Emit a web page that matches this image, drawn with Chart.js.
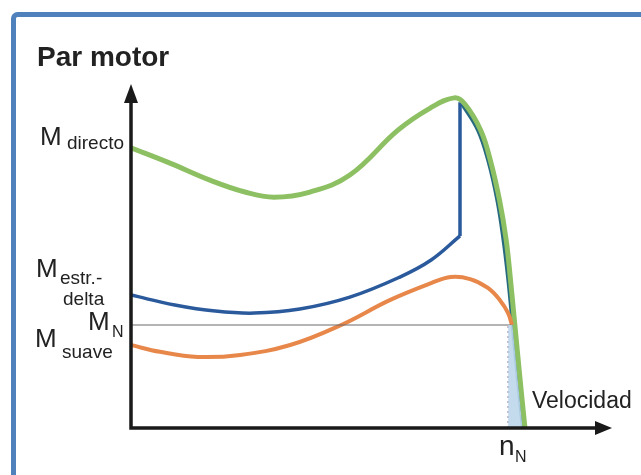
<!DOCTYPE html>
<html>
<head>
<meta charset="utf-8">
<script src="https://cdn.jsdelivr.net/npm/chart.js@4.4.1/dist/chart.umd.min.js"></script>
<style>
  html, body { margin: 0; padding: 0; background: #fff; }
</style>
</head>
<body>
<canvas id="torqueChart" width="641" height="475"></canvas>
<script>
// speed (0-100) and torque (0-100)
const directoSpeed = [0, 8.1, 16.4, 23.7, 29.7, 37.2, 45.5, 55.5, 62.2, 67.2, 69.4, 72.7, 74.7, 76.6, 78.0, 78.9, 79.8, 80.9, 81.9];
const directoTorque = [82.4, 77.9, 72.9, 69.4, 67.9, 69.4, 74.4, 87.6, 94.1, 97.1, 95.3, 87.6, 78.8, 67.1, 55.3, 43.5, 30.3, 14.1, 0];

const estrellaSpeed = [0, 9.1, 17.5, 25.6, 35.1, 45.5, 55.9, 62.4, 68.4];
const estrellaTorque = [39.1, 36.2, 34.4, 33.8, 35.0, 38.5, 44.4, 49.4, 56.5];
const saltoSpeed = [68.4, 68.4, 68.8];
const saltoTorque = [56.5, 95.3, 95.3];
const caidaSpeed = [68.8, 72.1, 74.2, 76.1, 77.4, 78.4, 79.3, 80.4, 81.4];
const caidaTorque = [95.3, 87.6, 78.8, 67.1, 55.3, 43.5, 30.3, 14.1, 0];

const suaveSpeed = [0, 6.0, 13.9, 22.7, 33.1, 43.7, 53.8, 62.4, 66.5, 70.5, 74.2, 76.7, 78.4, 79.2];
const suaveTorque = [24.4, 22.4, 20.9, 21.5, 24.4, 30.3, 37.6, 42.6, 44.4, 43.8, 41.2, 37.6, 33.8, 30.3];

const nominalTorque = 30.3; // M_N
const nominalSpeed = 78.4;  // n_N
const zonaSpeed = [78.4, 78.4, 79.3, 80.4, 81.4];
const zonaTorque = [0, 30.3, 30.3, 14.1, 0];

function pts(xs, ys) {
  return xs.map((x, i) => ({ x: x, y: ys[i] }));
}

const FONT = '"Liberation Sans", Arial, sans-serif';

const decorPlugin = {
  id: "decor",
  beforeDraw(chart) {
    const ctx = chart.ctx;
    ctx.save();
    ctx.fillStyle = "#fff";
    ctx.fillRect(0, 0, chart.width, chart.height);
    // blue frame
    ctx.strokeStyle = "#4f81bd";
    ctx.lineWidth = 5;
    ctx.beginPath();
    ctx.roundRect(13.5, 14.5, 700, 520, 4);
    ctx.stroke();
    ctx.restore();
  },
  afterDatasetsDraw(chart) {
    const ctx = chart.ctx;
    const xs = chart.scales.x;
    const ys = chart.scales.y;
    const x0 = xs.getPixelForValue(0);
    const y0 = ys.getPixelForValue(0);
    const xEnd = xs.getPixelForValue(100);
    const yEnd = ys.getPixelForValue(100);
    ctx.save();
    // axes
    ctx.strokeStyle = "#1a1a1a";
    ctx.fillStyle = "#1a1a1a";
    ctx.lineWidth = 3.5;
    ctx.lineCap = "square";
    ctx.beginPath();
    ctx.moveTo(x0, yEnd + 12);
    ctx.lineTo(x0, y0);
    ctx.lineTo(xEnd - 12, y0);
    ctx.stroke();
    ctx.beginPath();
    ctx.moveTo(x0, yEnd - 4);
    ctx.lineTo(x0 - 7, yEnd + 15);
    ctx.lineTo(x0 + 7, yEnd + 15);
    ctx.closePath();
    ctx.fill();
    ctx.beginPath();
    ctx.moveTo(xEnd, y0);
    ctx.lineTo(xEnd - 17, y0 - 7);
    ctx.lineTo(xEnd - 17, y0 + 7);
    ctx.closePath();
    ctx.fill();

    // labels
    ctx.fillStyle = "#222";
    ctx.textBaseline = "alphabetic";
    ctx.font = "bold 28px " + FONT;
    ctx.fillText("Par motor", 37, 66);

    ctx.font = "26px " + FONT;
    ctx.fillText("M", 40, 145);
    ctx.fillText("M", 36, 277);
    ctx.fillText("M", 88, 330);
    ctx.fillText("M", 35, 347);
    ctx.font = "19px " + FONT;
    ctx.fillText("directo", 67, 149);
    ctx.fillText("estr.-", 60, 284);
    ctx.fillText("delta", 63, 305);
    ctx.fillText("suave", 62, 358);
    ctx.font = "16px " + FONT;
    ctx.fillText("N", 112, 337);

    ctx.font = "23px " + FONT;
    ctx.fillText("Velocidad", 532, 408);
    ctx.font = "28px " + FONT;
    ctx.fillText("n", 499, 455);
    ctx.font = "16px " + FONT;
    ctx.fillText("N", 515, 462);
    ctx.restore();
  },
};

const ctx = document.getElementById("torqueChart").getContext("2d");

const torqueChart = new Chart(ctx, {
  type: "line",
  data: {
    datasets: [
      {
        label: "zona",
        data: pts(zonaSpeed, zonaTorque),
        borderWidth: 0,
        backgroundColor: "rgba(190, 215, 235, 0.9)",
        fill: "origin",
        pointRadius: 0,
        tension: 0,
      },
      {
        label: "M_N",
        data: pts([0, nominalSpeed + 0.6], [nominalTorque, nominalTorque]),
        borderColor: "#6b6b6b",
        borderWidth: 1.2,
        pointRadius: 0,
        tension: 0,
      },
      {
        label: "n_N",
        data: pts([nominalSpeed, nominalSpeed], [0, nominalTorque]),
        borderColor: "#8a7aa0",
        borderWidth: 1.2,
        borderDash: [2, 3],
        pointRadius: 0,
        tension: 0,
      },
      {
        label: "suave",
        data: pts(suaveSpeed, suaveTorque),
        borderColor: "#e8874a",
        borderWidth: 4,
        pointRadius: 0,
        tension: 0.4,
      },
      {
        label: "directo",
        data: pts(directoSpeed, directoTorque),
        borderColor: "#8dc062",
        borderWidth: 5,
        pointRadius: 0,
        tension: 0.4,
      },
      {
        label: "estrella-triangulo",
        data: pts(estrellaSpeed, estrellaTorque),
        borderColor: "#2b5a9c",
        borderWidth: 3.5,
        pointRadius: 0,
        tension: 0.4,
      },
      {
        label: "salto",
        data: pts(saltoSpeed, saltoTorque),
        borderColor: "#2b5a9c",
        borderWidth: 3.5,
        pointRadius: 0,
        tension: 0,
      },
      {
        label: "caida",
        data: pts(caidaSpeed, caidaTorque),
        borderColor: "#276a80",
        borderWidth: 3.5,
        pointRadius: 0,
        tension: 0.4,
      },
    ],
  },
  options: {
    responsive: false,
    animation: false,
    layout: {
      padding: { left: 131, right: 29, top: 88, bottom: 47 },
    },
    scales: {
      x: { type: "linear", min: 0, max: 100, display: false },
      y: { type: "linear", min: 0, max: 100, display: false },
    },
    plugins: {
      legend: { display: false },
      title: { display: false },
      tooltip: { enabled: false },
    },
  },
  plugins: [decorPlugin],
});
</script>
</body>
</html>
